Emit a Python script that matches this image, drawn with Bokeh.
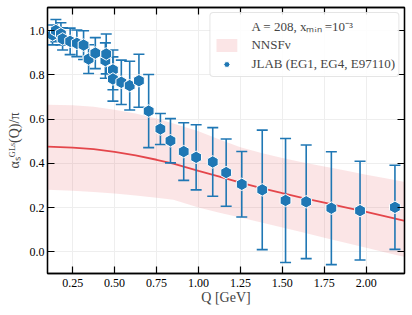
import numpy as np
from bokeh.plotting import figure
from bokeh.models import (Range1d, LinearAxis, FixedTicker, PrintfTickFormatter,
                          Legend, LegendItem, ColumnDataSource, CustomLabelingPolicy)
from bokeh.embed import file_html
from bokeh.resources import INLINE

# JLAB data (EG1, EG4, E97110)
q_data = [0.13, 0.15, 0.18, 0.19, 0.235, 0.275, 0.315, 0.345, 0.385, 0.445,
          0.45, 0.49, 0.49, 0.54, 0.59, 0.645, 0.703, 0.773, 0.833, 0.912,
          0.986, 1.085, 1.165, 1.258, 1.38, 1.519, 1.642, 1.792, 1.963, 2.171]
alpha_data = [0.98, 1.00, 0.985, 0.962, 0.951, 0.942, 0.934, 0.871, 0.898, 0.864,
              0.894, 0.822, 0.781, 0.766, 0.751, 0.773, 0.636, 0.555, 0.502, 0.453,
              0.427, 0.406, 0.358, 0.305, 0.28, 0.232, 0.226, 0.197, 0.186, 0.201]
alpha_err = [0.045, 0.05, 0.05, 0.05, 0.06, 0.06, 0.065, 0.065, 0.07, 0.08,
             0.09, 0.09, 0.10, 0.10, 0.11, 0.12, 0.165, 0.07, 0.10, 0.13,
             0.147, 0.155, 0.152, 0.148, 0.27, 0.28, 0.257, 0.255, 0.223, 0.19]

# NNSFnu prediction
q_grid = [0.1, 0.25, 0.375, 0.5, 0.625, 0.75, 0.85, 1.0, 1.125, 1.25, 1.375,
          1.5, 1.625, 1.75, 1.875, 2.0, 2.115, 2.23]
nnsf_mid = [0.475, 0.471, 0.464, 0.452, 0.436, 0.416, 0.398, 0.366, 0.340, 0.313, 0.288,
            0.265, 0.243, 0.222, 0.201, 0.180, 0.160, 0.140]
nnsf_hi = [0.665, 0.662, 0.655, 0.642, 0.625, 0.602, 0.580, 0.545, 0.508, 0.472, 0.446,
           0.424, 0.404, 0.386, 0.367, 0.348, 0.332, 0.316]
nnsf_lo = [0.280, 0.276, 0.270, 0.263, 0.255, 0.244, 0.235, 0.200, 0.177, 0.155, 0.132,
           0.110, 0.087, 0.064, 0.041, 0.018, -0.003, -0.024]

x_ticks = [0.25, 0.50, 0.75, 1.00, 1.25, 1.50, 1.75, 2.00]
y_ticks = [0.0, 0.2, 0.4, 0.6, 0.8, 1.0]

BLUE = "#1f77b4"
RED = "#e4464b"
FONT = "Liberation Serif"

p = figure(width=411, height=314, output_backend="svg", toolbar_location=None,
           x_range=Range1d(0.1, 2.228), y_range=Range1d(-0.098, 1.104),
           min_border_left=47, min_border_right=7, min_border_top=7,
           min_border_bottom=41)
p.background_fill_color = "white"
p.border_fill_color = "white"
p.outline_line_color = "black"
p.outline_line_width = 1.3

# grid
p.xgrid.ticker = FixedTicker(ticks=x_ticks)
p.ygrid.ticker = FixedTicker(ticks=y_ticks)
p.grid.grid_line_color = "#eeeeee"
p.grid.grid_line_width = 1

# band + line
band = p.varea(x=q_grid, y1=nnsf_lo, y2=nnsf_hi, fill_color=RED, fill_alpha=0.14)
p.line(x=q_grid, y=nnsf_mid, line_color=RED, line_width=1.8)
dummy = p.line(x=q_grid, y=nnsf_mid, line_alpha=0)

# data with error bars
q_arr = np.array(q_data)
a_arr = np.array(alpha_data)
e_arr = np.array(alpha_err)
src = ColumnDataSource(dict(q=q_arr, a=a_arr, lo=a_arr - e_arr, hi=a_arr + e_arr))
p.segment(x0="q", y0="lo", x1="q", y1="hi", source=src, line_color=BLUE, line_width=1.6)
p.scatter(x="q", y="lo", source=src, marker="dash", size=11, line_color=BLUE, line_width=1.6)
p.scatter(x="q", y="hi", source=src, marker="dash", size=11, line_color=BLUE, line_width=1.6)
pts = p.scatter(x="q", y="a", source=src, marker="hex", size=12.5, angle=np.pi / 6,
                fill_color=BLUE, line_color="white", line_width=1.0)

no_labels = CustomLabelingPolicy(code="""
for (let i = 0; i < indices.size; i++) { indices.unset(i) }
return indices
""")

# axes
def style_axis(ax, show_labels):
    ax.major_tick_in = 7
    ax.major_tick_out = 0
    ax.minor_tick_in = 0
    ax.minor_tick_out = 0
    ax.axis_line_color = "black"
    ax.axis_line_width = 1.3
    ax.major_tick_line_color = "black"
    ax.major_tick_line_width = 1.2
    if show_labels:
        ax.major_label_text_font = FONT
        ax.major_label_text_font_size = "12px"
        ax.major_label_text_color = "black"
    else:
        ax.major_label_text_font_size = "1px"
        ax.major_label_policy = no_labels
        ax.major_label_standoff = 0

xa = p.xaxis[0]
xa.ticker = FixedTicker(ticks=x_ticks)
xa.formatter = PrintfTickFormatter(format="%.2f")
style_axis(xa, True)
xa.major_label_standoff = 5
xa.axis_label = "Q [GeV]"
xa.axis_label_text_font = FONT
xa.axis_label_text_font_style = "normal"
xa.axis_label_text_font_size = "14px"
xa.axis_label_standoff = 0

ya = p.yaxis[0]
ya.ticker = FixedTicker(ticks=y_ticks)
ya.formatter = PrintfTickFormatter(format="%.1f")
style_axis(ya, True)
ya.major_label_standoff = 3
ya.axis_label = "αₛᴳᴸˢ(Q)/π"
ya.axis_label_text_font = FONT
ya.axis_label_text_font_style = "normal"
ya.axis_label_text_font_size = "14px"
ya.axis_label_standoff = 5

top = LinearAxis(ticker=FixedTicker(ticks=x_ticks))
style_axis(top, False)
p.add_layout(top, "above")
right = LinearAxis(ticker=FixedTicker(ticks=y_ticks))
style_axis(right, False)
p.add_layout(right, "right")

legend = Legend(items=[
    LegendItem(label="A = 208, xₘᵢₙ =10⁻³", renderers=[dummy]),
    LegendItem(label="NNSFν", renderers=[band]),
    LegendItem(label="JLAB (EG1, EG4, E97110)", renderers=[pts]),
], location="top_right")
legend.label_text_font = FONT
legend.label_text_font_size = "13px"
legend.label_height = 19
legend.glyph_height = 16
legend.glyph_width = 26
legend.label_standoff = 12
legend.spacing = 0
legend.padding = 3
legend.margin = 5
legend.border_line_color = "#cccccc"
legend.border_line_width = 1
legend.background_fill_alpha = 0.85
try:
    legend.border_radius = 4
except Exception:
    pass
p.add_layout(legend)

open("out.html", "w").write(file_html(p, INLINE))
